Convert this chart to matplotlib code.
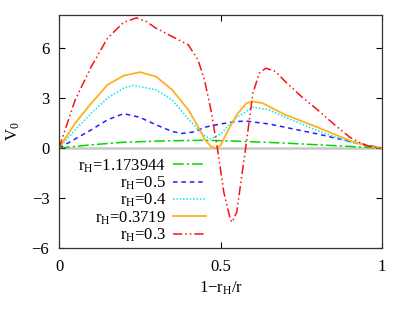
import numpy as np
import matplotlib.pyplot as plt

plt.rcParams['font.family'] = ['Liberation Serif', 'DejaVu Serif']
plt.rcParams['mathtext.fontset'] = 'custom'
plt.rcParams['mathtext.rm'] = 'Liberation Serif'
plt.rcParams['mathtext.it'] = 'Liberation Serif'

# r_H = 1.173944
x_a = [0, 0.1, 0.2, 0.3, 0.4, 0.45, 0.5, 0.6, 0.7, 0.8, 0.9, 1.0]
y_a = [0, 0.2, 0.35, 0.42, 0.46, 0.47, 0.45, 0.38, 0.3, 0.2, 0.1, 0]

# r_H = 0.5
x_b = [0, 0.05, 0.1, 0.15, 0.2, 0.25, 0.3, 0.35, 0.38, 0.42, 0.45, 0.5, 0.55, 0.58,
       0.65, 0.7, 0.8, 0.9, 1.0]
y_b = [0, 0.55, 1.1, 1.7, 2.07, 1.85, 1.4, 1.0, 0.88, 0.98, 1.25, 1.45, 1.6, 1.62,
       1.45, 1.25, 0.85, 0.4, 0]

# r_H = 0.4
x_c = [0, 0.05, 0.1, 0.15, 0.2, 0.23, 0.3, 0.35, 0.4, 0.45, 0.47, 0.5, 0.55, 0.6,
       0.65, 0.7, 0.8, 0.9, 1.0]
y_c = [0, 1.1, 2.1, 3.0, 3.6, 3.77, 3.5, 2.9, 1.75, 0.75, 0.55, 0.85, 1.85, 2.45,
       2.3, 1.85, 1.05, 0.35, 0]

# r_H = 0.3719
x_d = [0, 0.05, 0.1, 0.15, 0.2, 0.25, 0.3, 0.35, 0.4, 0.43, 0.45, 0.47, 0.485, 0.5,
       0.52, 0.55, 0.58, 0.6, 0.63, 0.7, 0.8, 0.9, 0.95, 1.0]
y_d = [0, 1.5, 2.7, 3.8, 4.35, 4.56, 4.3, 3.5, 2.3, 1.3, 0.55, 0.1, 0.0, 0.15,
       0.95, 2.0, 2.7, 2.8, 2.7, 2.0, 1.25, 0.45, 0.15, 0]

# r_H = 0.3
x_e = [0, 0.05, 0.1, 0.15, 0.2, 0.24, 0.27, 0.3, 0.35, 0.4, 0.43, 0.45, 0.47, 0.49,
       0.51, 0.53, 0.535, 0.55, 0.57, 0.58, 0.6, 0.62, 0.64, 0.67, 0.7, 0.75, 0.8,
       0.85, 0.9, 0.95, 1.0]
y_e = [0, 2.9, 4.9, 6.6, 7.55, 7.82, 7.6, 7.2, 6.7, 6.2, 5.3, 4.1, 2.3, 0,
       -2.65, -4.25, -4.45, -3.85, -1.05, 0.35, 3.3, 4.5, 4.8, 4.6, 4.0, 3.1, 2.3,
       1.45, 0.65, 0.15, 0]

fig = plt.figure(figsize=(4.1, 3.16), dpi=100)
ax = fig.add_axes([0.144, 0.215, 0.788, 0.738])

ax.axhline(0, color='#c8c8c8', lw=1.8, zorder=1)
ax.plot(x_a, y_a, color='#00d800', lw=1.1, dashes=(7, 2, 1.5, 2), label=r'$r_H$=1.173944')
ax.plot(x_b, y_b, color='#2020ff', lw=1.1, dashes=(3, 2.5), label=r'$r_H$=0.5')
ax.plot(x_c, y_c, color='#00e8f0', lw=1.1, dashes=(1, 1.2), label=r'$r_H$=0.4')
ax.plot(x_d, y_d, color='#ffb020', lw=1.3, label=r'$r_H$=0.3719')
ax.plot(x_e, y_e, color='#ff1010', lw=1.1, dashes=(6, 2, 1, 2, 1, 2), label=r'$r_H$=0.3')

ax.set_xlim(0, 1)
ax.set_ylim(-6, 8)
ax.set_xticks([0, 0.5, 1])
ax.set_xticklabels(['0', '0.5', '1'])
ax.set_yticks([-6, -3, 0, 3, 6])
ax.set_yticklabels(['\u22126', '\u22123', '0', '3', '6'])
ax.tick_params(direction='in', top=True, right=True, labelsize=12, length=4)
ax.tick_params(axis='x', pad=8)
ax.tick_params(axis='y', pad=7)
for s in ax.spines.values():
    s.set_linewidth(0.9)
    s.set_color('#333333')

ax.set_xlabel(r'1$-r_H$/r', fontsize=12, labelpad=3)
ax.set_ylabel(r'$V_0$', fontsize=12, labelpad=7)

ax.legend(loc='upper right', bbox_to_anchor=(0.455, 0.39), frameon=False, markerfirst=False,
          fontsize=12, handlelength=2.0, labelspacing=0.0, handletextpad=0.4,
          borderaxespad=0, borderpad=0)

fig.savefig('out.png', dpi=100)
